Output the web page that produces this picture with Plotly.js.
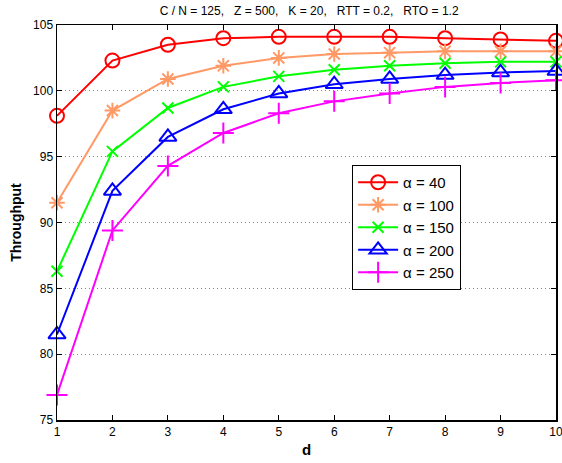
<!DOCTYPE html>
<html><head><meta charset="utf-8">
<script src="https://cdn.plot.ly/plotly-3.0.1.min.js"></script>
<style>body{margin:0;padding:0;background:#fff}#chart{width:562px;height:463px}</style>
</head><body><div id="chart"></div>
<script>
const d = [1,2,3,4,5,6,7,8,9,10];
const seriesNames = ['α = 40','α = 100','α = 150','α = 200','α = 250'];
const alpha40  = [98.1,102.3,103.5,104.0,104.1,104.1,104.1,104.0,103.9,103.8];
const alpha100 = [91.5,98.5,100.9,101.9,102.5,102.8,102.9,103.0,103.0,103.0];
const alpha150 = [86.3,95.4,98.7,100.3,101.1,101.6,101.9,102.1,102.2,102.2];
const alpha200 = [81.5,92.4,96.5,98.6,99.8,100.5,100.9,101.2,101.4,101.5];
const alpha250 = [76.9,89.4,94.3,96.8,98.3,99.2,99.8,100.3,100.6,100.8];

const values = [alpha40,alpha100,alpha150,alpha200,alpha250];
const colors = ['#ff0000','#ff9966','#00ff00','#0000ff','#ff00ff'];
const symbols = ['circle-open','asterisk-open','x-thin-open','triangle-up-open','cross-thin-open'];
const sizes = [14,13,11,15,15];

const traces = values.map((v,i)=>({
  x:d, y:v, name:seriesNames[i], type:'scatter', mode:'lines+markers',
  line:{color:colors[i], width:2},
  marker:{symbol:symbols[i], size:sizes[i], color:colors[i], line:{color:colors[i], width:2}},
  cliponaxis:false
}));

const layout = {
  width:562, height:463,
  margin:{l:57, r:6, t:25, b:43},
  paper_bgcolor:'#fff', plot_bgcolor:'#fff',
  font:{family:'Liberation Sans, Arial, sans-serif', size:12, color:'#000'},
  title:{text:'C / N = 125,   Z = 500,   K = 20,   RTT = 0.2,   RTO = 1.2', font:{size:12}, x:0.55, xanchor:'center', y:0.985, yanchor:'top'},
  xaxis:{range:[1,10], tickvals:d, ticks:'inside', ticklen:5, tickcolor:'#000',
    ticklabeloverflow:'allow',
    showline:true, linecolor:'#000', linewidth:1.5, mirror:'ticks', showgrid:false, zeroline:false,
    title:{text:'<b>d</b>', font:{size:15}, standoff:6}},
  yaxis:{range:[75,105], dtick:5, ticks:'inside', ticklen:5, tickcolor:'#000',
    showline:true, linecolor:'#000', linewidth:1.5, mirror:'ticks',
    showgrid:true, gridcolor:'#888', griddash:'1px,3px', gridwidth:1, zeroline:false,
    title:{text:'<b>Throughput</b>', font:{size:14}, standoff:8}},
  legend:{x:0.591, y:0.646, xanchor:'left', yanchor:'top', bgcolor:'#fff', bordercolor:'#000', borderwidth:1.2,
    font:{size:15}, tracegroupgap:0, itemwidth:40},
  showlegend:true
};
Plotly.newPlot('chart', traces, layout, {staticPlot:true});
</script></body></html>
